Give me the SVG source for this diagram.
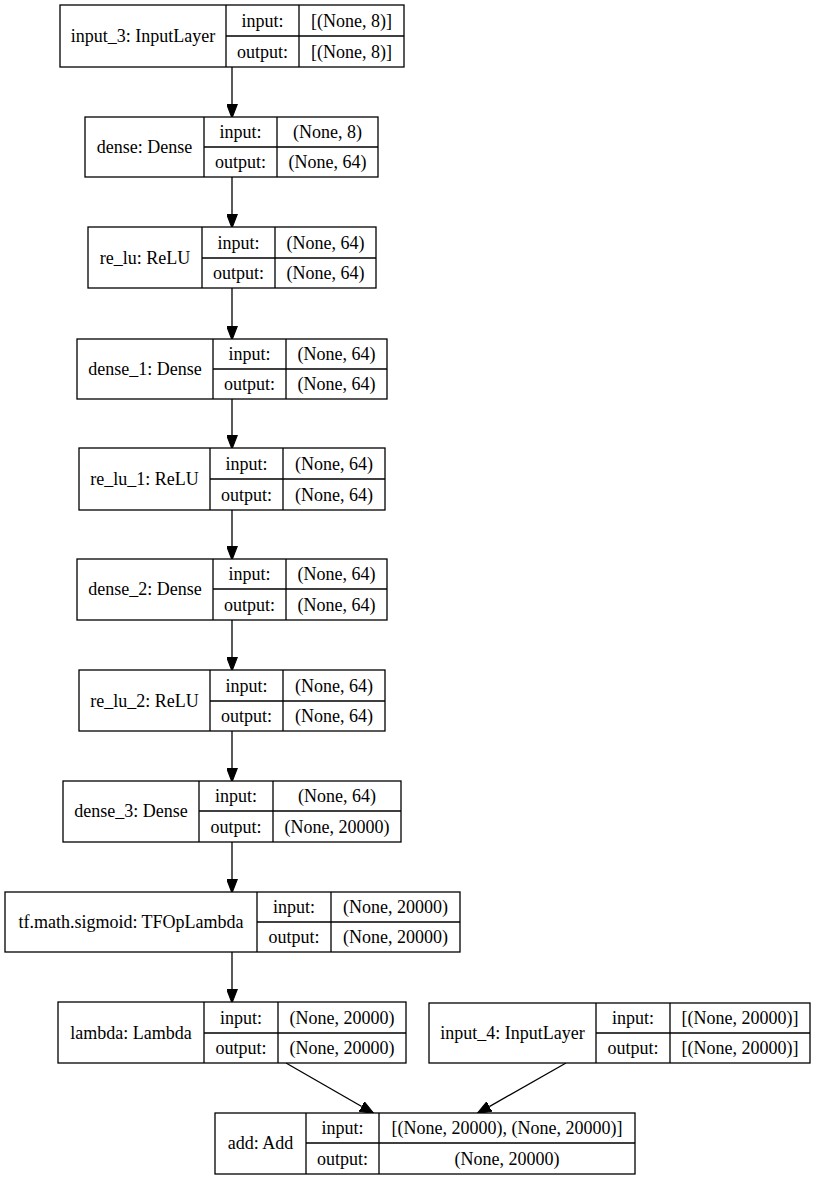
<svg xmlns="http://www.w3.org/2000/svg" width="815" height="1180" viewBox="0 0 815 1180">
<style>
.b{fill:#fff;stroke:#000;stroke-width:1.3}
.l{stroke:#000;stroke-width:1.3;fill:none}
.e{stroke:#000;stroke-width:1.3;fill:none;marker-end:url(#ah)}
text{font-family:"Liberation Serif","Times New Roman",serif;font-size:18px;fill:#000;text-anchor:middle}
</style>
<defs>
<marker id="ah" markerUnits="userSpaceOnUse" markerWidth="14" markerHeight="11" viewBox="0 0 13 10" refX="0" refY="5" orient="auto">
<path d="M0,0 L13,5 L0,10 z" fill="#000" stroke="#000" stroke-width="1"/>
</marker>
</defs>
<rect width="815" height="1180" fill="#fff"/>
<g id="connectors">
<line class="e" x1="232" y1="67" x2="232" y2="104"/>
<line class="e" x1="232" y1="177" x2="232" y2="214"/>
<line class="e" x1="232" y1="288" x2="232" y2="326"/>
<line class="e" x1="232" y1="399" x2="232" y2="435"/>
<line class="e" x1="232" y1="510" x2="232" y2="546"/>
<line class="e" x1="232" y1="620" x2="232" y2="657"/>
<line class="e" x1="232" y1="731" x2="232" y2="768"/>
<line class="e" x1="232" y1="842" x2="232" y2="879"/>
<line class="e" x1="232" y1="952" x2="232" y2="989"/>
<line class="e" x1="286" y1="1063" x2="361.7" y2="1106.5"/>
<line class="e" x1="566" y1="1063" x2="489.3" y2="1106.6"/>
</g>
<g id="input_3">
<rect class="b" x="60" y="5" width="344" height="62"/>
<path class="l" d="M226,5V67M299,5V67M226,36H404"/>
<text x="143" y="42">input_3: InputLayer</text>
<text x="262.5" y="26.5">input:</text><text x="351.5" y="26.5">[(None, 8)]</text>
<text x="262.5" y="57.5">output:</text><text x="351.5" y="57.5">[(None, 8)]</text>
</g>
<g id="dense">
<rect class="b" x="85" y="117" width="293" height="60"/>
<path class="l" d="M204,117V177M277,117V177M204,147H378"/>
<text x="144.5" y="153">dense: Dense</text>
<text x="240.5" y="138">input:</text><text x="327.5" y="138">(None, 8)</text>
<text x="240.5" y="168">output:</text><text x="327.5" y="168">(None, 64)</text>
</g>
<g id="re_lu">
<rect class="b" x="88" y="227" width="288" height="61"/>
<path class="l" d="M202,227V288M275,227V288M202,258H376"/>
<text x="145" y="264">re_lu: ReLU</text>
<text x="238.5" y="248.5">input:</text><text x="325.5" y="248.5">(None, 64)</text>
<text x="238.5" y="279">output:</text><text x="325.5" y="279">(None, 64)</text>
</g>
<g id="dense_1">
<rect class="b" x="77" y="339" width="310" height="60"/>
<path class="l" d="M213,339V399M286,339V399M213,369H387"/>
<text x="145" y="375">dense_1: Dense</text>
<text x="249.5" y="360">input:</text><text x="336.5" y="360">(None, 64)</text>
<text x="249.5" y="390">output:</text><text x="336.5" y="390">(None, 64)</text>
</g>
<g id="re_lu_1">
<rect class="b" x="79" y="448" width="306" height="62"/>
<path class="l" d="M210,448V510M283,448V510M210,479H385"/>
<text x="144.5" y="485">re_lu_1: ReLU</text>
<text x="246.5" y="469.5">input:</text><text x="334" y="469.5">(None, 64)</text>
<text x="246.5" y="500.5">output:</text><text x="334" y="500.5">(None, 64)</text>
</g>
<g id="dense_2">
<rect class="b" x="77" y="559" width="310" height="61"/>
<path class="l" d="M213,559V620M286,559V620M213,589H387"/>
<text x="145" y="595">dense_2: Dense</text>
<text x="249.5" y="580">input:</text><text x="336.5" y="580">(None, 64)</text>
<text x="249.5" y="610.5">output:</text><text x="336.5" y="610.5">(None, 64)</text>
</g>
<g id="re_lu_2">
<rect class="b" x="79" y="670" width="306" height="61"/>
<path class="l" d="M210,670V731M283,670V731M210,701H385"/>
<text x="144.5" y="707">re_lu_2: ReLU</text>
<text x="246.5" y="691.5">input:</text><text x="334" y="691.5">(None, 64)</text>
<text x="246.5" y="722">output:</text><text x="334" y="722">(None, 64)</text>
</g>
<g id="dense_3">
<rect class="b" x="63" y="781" width="338" height="61"/>
<path class="l" d="M199,781V842M273,781V842M199,811H401"/>
<text x="131" y="817">dense_3: Dense</text>
<text x="236" y="802">input:</text><text x="337" y="802">(None, 64)</text>
<text x="236" y="832.5">output:</text><text x="337" y="832.5">(None, 20000)</text>
</g>
<g id="tf_math_sigmoid">
<rect class="b" x="5" y="892" width="455" height="60"/>
<path class="l" d="M257,892V952M331,892V952M257,922H460"/>
<text x="131" y="928">tf.math.sigmoid: TFOpLambda</text>
<text x="294" y="913">input:</text><text x="395.5" y="913">(None, 20000)</text>
<text x="294" y="943">output:</text><text x="395.5" y="943">(None, 20000)</text>
</g>
<g id="lambda">
<rect class="b" x="58" y="1002" width="348" height="61"/>
<path class="l" d="M204,1002V1063M278,1002V1063M204,1033H406"/>
<text x="131" y="1039">lambda: Lambda</text>
<text x="241" y="1023.5">input:</text><text x="342" y="1023.5">(None, 20000)</text>
<text x="241" y="1054">output:</text><text x="342" y="1054">(None, 20000)</text>
</g>
<g id="input_4">
<rect class="b" x="429" y="1003" width="381" height="60"/>
<path class="l" d="M596,1003V1063M670,1003V1063M596,1033H810"/>
<text x="512.5" y="1039">input_4: InputLayer</text>
<text x="633" y="1024">input:</text><text x="740" y="1024">[(None, 20000)]</text>
<text x="633" y="1054">output:</text><text x="740" y="1054">[(None, 20000)]</text>
</g>
<g id="add">
<rect class="b" x="215" y="1113" width="420" height="61"/>
<path class="l" d="M306,1113V1174M379,1113V1174M306,1143H635"/>
<text x="260.5" y="1149">add: Add</text>
<text x="342.5" y="1134">input:</text><text x="507" y="1134">[(None, 20000), (None, 20000)]</text>
<text x="342.5" y="1164.5">output:</text><text x="507" y="1164.5">(None, 20000)</text>
</g>
</svg>
